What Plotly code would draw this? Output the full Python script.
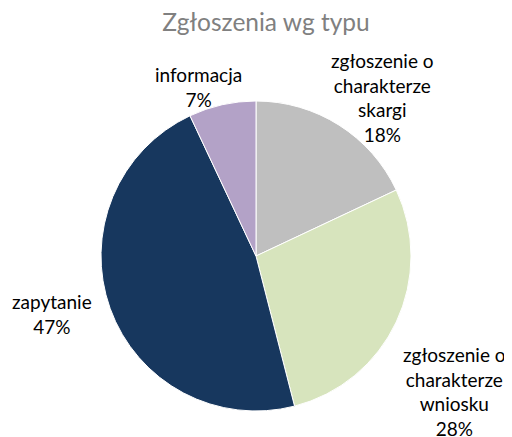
import plotly.graph_objects as go

categories = ["zgłoszenie o<br>charakterze<br>skargi", "zgłoszenie o<br>charakterze<br>wniosku", "zapytanie", "informacja"]
values = [18, 28, 47, 7]
colors = ["#BFBFBF", "#D7E4BD", "#17375E", "#B3A2C7"]

W, H = 512, 437
# label block centres in pixels (x, y from top)
label_px = [(374, 89), (446, 383), (44, 306), (190, 79)]

fig = go.Figure(go.Pie(
    labels=categories,
    values=values,
    marker=dict(colors=colors, line=dict(color="white", width=1)),
    sort=False,
    direction="clockwise",
    rotation=0,
    textinfo="none",
    domain=dict(x=[93/W, 403/W], y=[34/H, 344/H]),
    showlegend=False,
))

total = sum(values)
annotations = []
for cat, v, (px, py) in zip(categories, values, label_px):
    annotations.append(dict(
        x=px / W, y=1 - py / H, xref="paper", yref="paper",
        text=f"{cat}<br>{round(100*v/total)}%",
        showarrow=False, align="center",
        font=dict(family="Lato", size=19, color="#000000"),
        xanchor="center", yanchor="middle",
    ))

fig.update_layout(
    width=W, height=H,
    margin=dict(l=0, r=0, t=0, b=0),
    paper_bgcolor="white", plot_bgcolor="white",
    title=dict(text="Zgłoszenia wg typu", x=258 / W, xanchor="center", y=1 - 14 / H, yanchor="middle",
               font=dict(family="Lato", size=24.5, color="#808080")),
    annotations=annotations,
)

fig.write_html("out.html")
